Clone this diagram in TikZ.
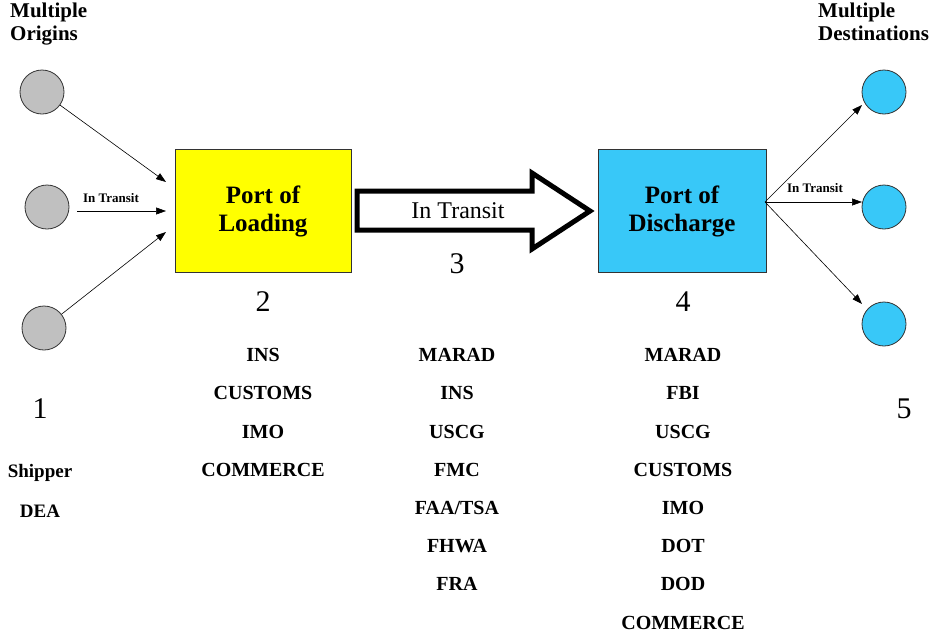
\documentclass[tikz,border=0pt]{standalone}
\usepackage{fontspec}
\setmainfont{Liberation Serif}[BoldFont={Liberation Serif Bold},ItalicFont={Liberation Serif Italic}]
\usetikzlibrary{arrows.meta}
\definecolor{portyellow}{HTML}{FFFF00}
\definecolor{portblue}{HTML}{38C8F8}
\definecolor{origgray}{HTML}{C0C0C0}
\begin{document}
\begin{tikzpicture}[x=1pt,y=-1pt,
  orig/.style={circle,draw=black!80,fill=origgray,minimum size=44pt,inner sep=0pt,line width=0.8pt},
  dest/.style={circle,draw=black!80,fill=portblue,minimum size=44pt,inner sep=0pt,line width=0.8pt},
  portbox/.style={draw=black!80,line width=0.8pt,minimum width=176pt,minimum height=123pt,align=center,font=\fontsize{25}{28}\selectfont\bfseries},
  flow/.style={-{Triangle[length=10pt,width=7pt]},line width=0.6pt},
  lbl/.style={font=\fontsize{13}{15}\selectfont\bfseries},
  num/.style={font=\fontsize{30}{32}\selectfont},
  agency/.style={font=\fontsize{20}{38.2}\selectfont\bfseries,align=center,anchor=north},
  head/.style={font=\fontsize{21}{23}\selectfont\bfseries,align=left,anchor=north west,inner sep=0pt}
]
\useasboundingbox (0,0) rectangle (939,635);
\fill[white] (0,0) rectangle (939,635);

\node[head] (ho) at (10,3) {Multiple\\Origins};
\node[head] (hd) at (818,3) {Multiple\\Destinations};

\node[orig] (o1) at (42,92) {};
\node[orig] (o2) at (47,207) {};
\node[orig] (o3) at (44,328) {};

\node[portbox,fill=portyellow] (pl) at (263,211) {Port of\\Loading};
\node[portbox,fill=portblue,minimum width=168pt] (pd) at (682,211) {Port of\\Discharge};

\node[dest] (d1) at (884,92) {};
\node[dest] (d2) at (884,207) {};
\node[dest] (d3) at (884,324) {};

\coordinate (a1) at (166,182);
\coordinate (a2) at (166,211);
\coordinate (a3) at (166,232);
\coordinate (s2) at (77,211);
\draw[flow] (o1) -- (a1);
\draw[flow] (s2) -- (a2);
\draw[flow] (o3) -- (a3);
\node[lbl] (t1) at (111,198) {In Transit};

\coordinate (src) at (765,202);
\coordinate (b1) at (862,105);
\coordinate (b2) at (862,202);
\coordinate (b3) at (862,304);
\draw[flow] (src) -- (b1);
\draw[flow] (src) -- (b2);
\draw[flow] (src) -- (b3);
\node[lbl] (t2) at (815,188) {In Transit};

% big hollow arrow
\draw[line width=5pt,fill=white,line join=miter]
  (357,191) -- (532,191) -- (532,173) -- (590,211) -- (532,249) -- (532,230) -- (357,230) -- cycle;
\node[font=\fontsize{24}{26}\selectfont] (t3) at (458,211) {In Transit};

\node[num] (n1) at (40,409) {1};
\node[num] (n2) at (263,302) {2};
\node[num] (n3) at (457,264) {3};
\node[num] (n4) at (683,302) {4};
\node[num] (n5) at (904,409) {5};

\node[agency] (l2) at (263,345) {INS\\CUSTOMS\\IMO\\COMMERCE};
\node[agency] (l3) at (457,345) {MARAD\\INS\\USCG\\FMC\\FAA/TSA\\FHWA\\FRA};
\node[agency] (l4) at (683,345) {MARAD\\FBI\\USCG\\CUSTOMS\\IMO\\DOT\\DOD\\COMMERCE};
\node[agency,font=\fontsize{19}{40}\selectfont\bfseries] (l1) at (40,461) {Shipper\\DEA};
\end{tikzpicture}
\end{document}
